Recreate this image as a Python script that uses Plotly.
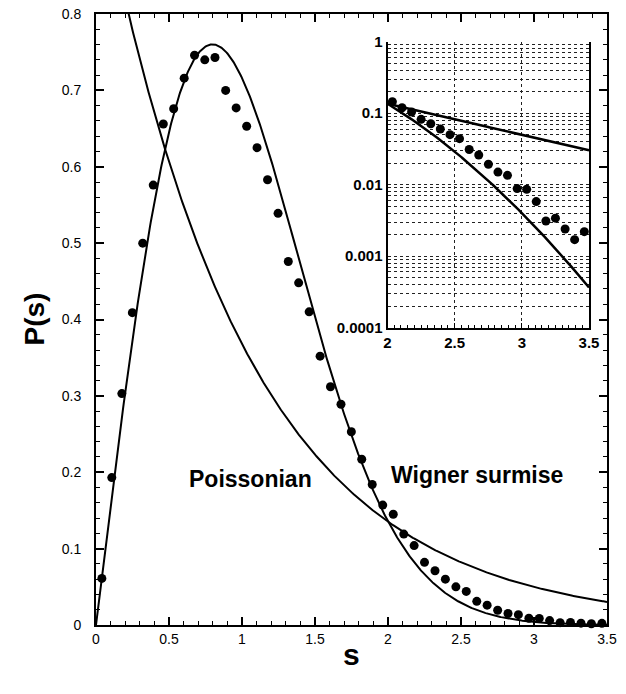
import numpy as np
import plotly.graph_objects as go

# measured level-spacing histogram (points)
s_data = [0.040, 0.108, 0.177, 0.249, 0.320, 0.392, 0.461, 0.532, 0.604, 0.675,
          0.745, 0.815, 0.888, 0.960, 1.032, 1.103, 1.175, 1.247, 1.317, 1.388,
          1.460, 1.535, 1.606, 1.678, 1.749, 1.820, 1.892, 1.964, 2.036, 2.108,
          2.179, 2.250, 2.322, 2.393, 2.465, 2.536, 2.608, 2.679, 2.751, 2.822,
          2.893, 2.965, 3.036, 3.107, 3.179, 3.250, 3.322, 3.393, 3.465]
p_data = [0.061, 0.193, 0.303, 0.409, 0.500, 0.576, 0.656, 0.676, 0.716, 0.746,
          0.740, 0.743, 0.700, 0.677, 0.653, 0.625, 0.583, 0.539, 0.476, 0.448,
          0.410, 0.352, 0.312, 0.289, 0.253, 0.217, 0.184, 0.157, 0.145, 0.119,
          0.104, 0.082, 0.071, 0.060, 0.050, 0.044, 0.031, 0.026, 0.0193, 0.0150,
          0.0135, 0.0088, 0.0086, 0.0058, 0.0031, 0.0034, 0.0024, 0.0017, 0.0022]

# theoretical curves
s_curve = np.linspace(0.0, 3.5, 701)
poisson = np.exp(-s_curve)
wigner = np.pi / 2 * s_curve * np.exp(-np.pi * s_curve ** 2 / 4)

inset_x_ticks = [2, 2.5, 3, 3.5]
inset_x_text = ["<b>2</b>", "<b>2.5</b>", "<b>3</b>", "<b>3.5</b>"]
decades = [1e-4, 1e-3, 1e-2, 1e-1, 1]
decade_text = ["0.0001", "0.001", "0.01", "0.1", "1"]

inset_tickvals = []
inset_ticktext = []
for d, t in zip(decades, decade_text):
    for m in range(1, 10):
        if d == 1 and m > 1:
            break
        inset_tickvals.append(d * m)
        inset_ticktext.append("<b>" + t + "</b>" if m == 1 else "")

FONT = "Liberation Sans, Arial, sans-serif"
fig = go.Figure()

# main panel (on x2/y2)
fig.add_trace(go.Scatter(x=s_curve, y=poisson, mode="lines",
                         line=dict(color="black", width=2), showlegend=False,
                         xaxis="x2", yaxis="y2"))
fig.add_trace(go.Scatter(x=s_curve, y=wigner, mode="lines",
                         line=dict(color="black", width=2), showlegend=False,
                         xaxis="x2", yaxis="y2"))
fig.add_trace(go.Scatter(x=s_data, y=p_data, mode="markers",
                         marker=dict(color="black", size=9), showlegend=False,
                         cliponaxis=False, xaxis="x2", yaxis="y2"))

# inset (on x3/y3)
sel = [i for i, s in enumerate(s_data) if s >= 2.0]
mask = s_curve >= 2.0
fig.add_trace(go.Scatter(x=s_curve[mask], y=poisson[mask], mode="lines",
                         line=dict(color="black", width=2.5), showlegend=False,
                         xaxis="x3", yaxis="y3"))
fig.add_trace(go.Scatter(x=s_curve[mask], y=wigner[mask], mode="lines",
                         line=dict(color="black", width=2.5), showlegend=False,
                         xaxis="x3", yaxis="y3"))
fig.add_trace(go.Scatter(x=[s_data[i] for i in sel], y=[p_data[i] for i in sel],
                         mode="markers", marker=dict(color="black", size=9),
                         showlegend=False, xaxis="x3", yaxis="y3"))

fig.update_layout(
    template="none",
    width=626, height=694,
    margin=dict(l=96, r=19, t=14, b=69, autoexpand=False),
    paper_bgcolor="white", plot_bgcolor="white",
    font=dict(family=FONT, color="black", size=14),
    xaxis=dict(visible=False),
    yaxis=dict(visible=False),
    xaxis2=dict(domain=[0, 1], anchor="y2", range=[0, 3.5], tickmode="linear",
                tick0=0, dtick=0.5,
                ticks="inside", ticklen=8, tickwidth=1.5, tickcolor="black",
                minor=dict(tickmode="linear", tick0=0, dtick=0.1, ticks="inside",
                           ticklen=4, tickwidth=1.2, tickcolor="black"),
                showline=True, linecolor="black", linewidth=2, mirror="allticks",
                showgrid=False, zeroline=False, automargin=False,
                tickfont=dict(size=14)),
    yaxis2=dict(domain=[0, 1], anchor="x2", range=[0, 0.8], tickmode="linear",
                tick0=0, dtick=0.1,
                ticks="inside", ticklen=8, tickwidth=1.5, tickcolor="black",
                minor=dict(tickmode="linear", tick0=0, dtick=0.02, ticks="inside",
                           ticklen=4, tickwidth=1.2, tickcolor="black"),
                showline=True, linecolor="black", linewidth=2, mirror="allticks",
                showgrid=False, zeroline=False, automargin=False,
                ticklabelstandoff=10, tickfont=dict(size=14)),
    xaxis3=dict(domain=[0.5705, 0.9648], anchor="y3", range=[2, 3.5],
                tickmode="array", tickvals=inset_x_ticks, ticktext=inset_x_text,
                ticks="inside", ticklen=5, tickcolor="black",
                minor=dict(tickmode="linear", tick0=2, dtick=0.05, ticks="inside",
                           ticklen=3, tickcolor="black", showgrid=False),
                showline=True, linecolor="black", linewidth=2,
                showgrid=True, gridcolor="#222222", griddash="dot", gridwidth=1,
                zeroline=False, automargin=False, tickfont=dict(size=15)),
    yaxis3=dict(domain=[0.4867, 0.9547], anchor="x3", type="log",
                range=[-4, 0], tickmode="array", tickvals=inset_tickvals,
                ticktext=inset_ticktext,
                ticks="", showline=True, linecolor="black", linewidth=2,
                mirror=True, showgrid=True, gridcolor="#222222", griddash="dot",
                gridwidth=1, zeroline=False, automargin=False,
                tickfont=dict(size=15)),
    annotations=[
        dict(text="<b>P(s)</b>", xref="paper", yref="paper", x=0, y=0.5,
             xshift=-62, textangle=-90, showarrow=False,
             font=dict(size=28, family=FONT), xanchor="center", yanchor="middle"),
        dict(text="<b>s</b>", xref="paper", yref="paper", x=0.5, y=0,
             yshift=-29, showarrow=False, font=dict(size=30, family=FONT),
             xanchor="center", yanchor="middle"),
        dict(text="<b>Poissonian</b>", xref="x2", yref="y2", x=1.055, y=0.191,
             showarrow=False, font=dict(size=23, family=FONT)),
        dict(text="<b>Wigner surmise</b>", xref="x2", yref="y2", x=2.61, y=0.196,
             showarrow=False, font=dict(size=23, family=FONT)),
    ],
)

fig.write_html("out.html", config={"displayModeBar": False},
               post_script="document.body.style.margin='0';document.body.style.padding='0';")
